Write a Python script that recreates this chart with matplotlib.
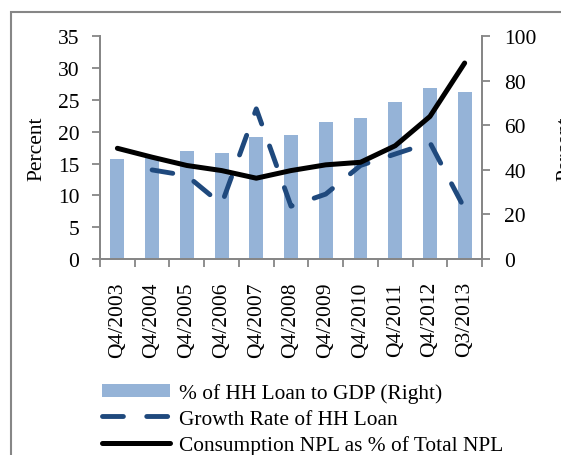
import numpy as np
import matplotlib
matplotlib.use("Agg")
from matplotlib import pyplot as plt
from matplotlib.patches import Rectangle
from matplotlib.ticker import FixedLocator

quarters = ['Q4/2003', 'Q4/2004', 'Q4/2005', 'Q4/2006', 'Q4/2007', 'Q4/2008',
            'Q4/2009', 'Q4/2010', 'Q4/2011', 'Q4/2012', 'Q3/2013']
hh_loan_gdp = [44.8, 45.7, 48.3, 47.5, 54.6, 55.6, 61.3, 63.1, 70.3, 77.0, 74.8]
growth_rate = [np.nan, 14.0, 13.1, 8.6, 23.6, 8.3, 10.2, 14.7, 16.5, 18.3, 7.9]
cons_npl = [17.4, 16.0, 14.7, 13.9, 12.7, 13.9, 14.8, 15.2, 17.8, 22.4, 30.8]

plt.rcParams['font.family'] = ['Liberation Serif', 'DejaVu Serif']
grey = '#868686'

fig = plt.figure(figsize=(5.61, 4.56), dpi=100)
fig.patches.append(Rectangle((11 / 561, -0.5), 2, 0.5 + 1 - 13 / 456,
                             transform=fig.transFigure, fill=False,
                             edgecolor=grey, linewidth=1.5))

ax = fig.add_axes([0.1783, 0.4298, 0.6809, 0.4884])
ax2 = ax.twinx()
x = np.arange(len(quarters))

bars = ax2.bar(x, hh_loan_gdp, width=0.4, color='#95B3D7',
               label='% of HH Loan to GDP (Right)', zorder=1)
ax.set_zorder(ax2.get_zorder() + 1)
ax.patch.set_visible(False)
gl, = ax.plot(x, growth_rate, color='#1F497D', linewidth=3.5,
              dashes=(4.3, 4.8), dash_capstyle='round',
              label='Growth Rate of HH Loan')
nl, = ax.plot(x, cons_npl, color='black', linewidth=3.6,
              solid_capstyle='round', label='Consumption NPL as % of Total NPL')

ax.set_xlim(-0.5, len(quarters) - 0.5)
ax.set_ylim(0, 35)
ax.set_yticks(range(0, 36, 5))
ax2.set_ylim(0, 100)
ax2.set_yticks(range(0, 101, 20))

ax.set_xticks(x)
ax.set_xticklabels(quarters, rotation=90)
ax.xaxis.set_minor_locator(FixedLocator(np.arange(-0.5, len(quarters), 1)))
ax.tick_params(axis='x', which='major', length=0, pad=16, labelsize=15.5)
ax.tick_params(axis='x', which='minor', length=6, width=1.3, color=grey)
ax.tick_params(axis='y', length=6, width=1.3, color=grey, pad=9, labelsize=15.5)
ax2.tick_params(axis='y', length=6, width=1.3, color=grey, pad=10, labelsize=15.5)

for a in (ax, ax2):
    a.spines['top'].set_visible(False)
    for s in ('left', 'right', 'bottom'):
        a.spines[s].set_color(grey)
        a.spines[s].set_linewidth(1.3)

ax.set_ylabel('Percent', fontsize=15.5, labelpad=8)
ax2.set_ylabel('Percent', fontsize=15.5, labelpad=14)

fig.legend(handles=[bars, gl, nl], loc='upper left',
           bbox_to_anchor=(102 / 561, 1 - 384 / 456), frameon=False,
           fontsize=15.4, handlelength=3.2, handletextpad=0.4,
           labelspacing=0.3, borderpad=0, borderaxespad=0, handleheight=0.6)

fig.savefig('out.png', dpi=100)
